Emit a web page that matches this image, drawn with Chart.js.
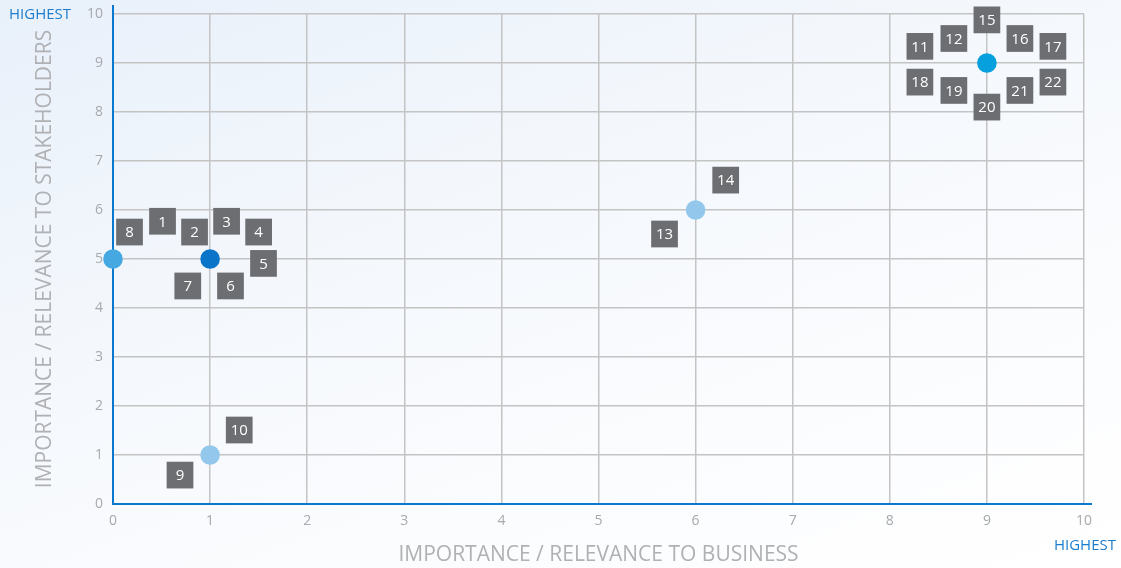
<!DOCTYPE html>
<html>
<head>
<meta charset="utf-8">
<script src="https://cdn.jsdelivr.net/npm/chart.js@4"></script>
<style>
html,body{margin:0;padding:0;}
body{width:1121px;height:568px;overflow:hidden;
  background:linear-gradient(160deg,#e8f0fa 0%,#f3f7fc 35%,#fbfcfe 70%,#ffffff 100%);}
#wrap{position:relative;width:1121px;height:568px;}
canvas{display:block;}
</style>
</head>
<body>
<div id="wrap"><canvas id="matrix" width="1121" height="568"></canvas></div>
<script>
// Materiality matrix data
const xTicks=[0,1,2,3,4,5,6,7,8,9,10];
const yTicks=[0,1,2,3,4,5,6,7,8,9,10];

const pointX=[0,1,9,6,1];
const pointY=[5,5,9,6,1];
const pointColors=['#45a8e0','#0a74c8','#05a0dd','#93c8ec','#93c8ec'];

const tagNames=['1','2','3','4','5','6','7','8','9','10','11','12','13','14','15','16','17','18','19','20','21','22'];
const tagX=[0.51,0.84,1.17,1.50,1.55,1.21,0.77,0.17,0.69,1.30,8.31,8.66,5.68,6.31,9.00,9.34,9.68,8.31,8.66,9.00,9.34,9.68];
const tagY=[5.77,5.55,5.77,5.55,4.91,4.45,4.45,5.55,0.59,1.51,9.34,9.50,5.51,6.61,9.88,9.50,9.34,8.61,8.44,8.10,8.44,8.61];

const FONT='"Open Sans", "Noto Sans", sans-serif';

// number text on the grey tags
const tagText={
  id:'tagText',
  afterDatasetsDraw(chart){
    const ctx=chart.ctx;
    const meta=chart.getDatasetMeta(0);
    ctx.save();
    ctx.fillStyle='#ffffff';
    ctx.font='15px '+FONT;
    ctx.textAlign='center';
    ctx.textBaseline='middle';
    meta.data.forEach((el,i)=>{ ctx.fillText(tagNames[i], el.x, el.y+1); });
    ctx.restore();
  }
};

// blue axis lines and "HIGHEST" marks
const axisDecor={
  id:'axisDecor',
  beforeDatasetsDraw(chart){
    const ctx=chart.ctx, a=chart.chartArea;
    ctx.save();
    ctx.strokeStyle='#0a78cd';
    ctx.lineWidth=2;
    ctx.beginPath();
    ctx.moveTo(a.left, a.top-9);
    ctx.lineTo(a.left, a.bottom);
    ctx.lineTo(a.right+8, a.bottom);
    ctx.stroke();
    ctx.restore();
  },
  afterDraw(chart){
    const ctx=chart.ctx, a=chart.chartArea;
    ctx.save();
    ctx.fillStyle='#1b7dce';
    ctx.font='15px '+FONT;
    ctx.textBaseline='middle';
    ctx.textAlign='left';
    ctx.fillText('HIGHEST', 9, a.top+1);
    ctx.textAlign='right';
    ctx.fillText('HIGHEST', 1116, 546);
    ctx.restore();
  }
};

new Chart(document.getElementById('matrix'),{
  type:'scatter',
  data:{
    datasets:[
      {
        label:'Topics',
        data:tagX.map((x,i)=>({x:x,y:tagY[i]})),
        pointStyle:'rect',
        pointRadius:18.9,
        pointHoverRadius:18.9,
        backgroundColor:'#6d6e71',
        borderWidth:0,
        clip:false
      },
      {
        label:'Clusters',
        data:pointX.map((x,i)=>({x:x,y:pointY[i]})),
        pointRadius:9.8,
        pointHoverRadius:9.8,
        backgroundColor:pointColors,
        borderWidth:0,
        clip:false
      }
    ]
  },
  options:{
    responsive:false,
    animation:false,
    devicePixelRatio:1,
    layout:{autoPadding:false,padding:{top:14,right:37,left:0,bottom:0}},
    plugins:{legend:{display:false},tooltip:{enabled:false}},
    scales:{
      x:{
        type:'linear',min:0,max:10,
        afterBuildTicks(s){ s.ticks=xTicks.map(v=>({value:v})); },
        afterFit(s){ s.height=64; },
        border:{display:false},
        grid:{color:'#c4c4c4',lineWidth:1.5,drawTicks:false},
        ticks:{color:'#a7a9ac',font:{family:FONT,size:14},padding:9,maxRotation:0,autoSkip:false},
        title:{display:true,text:'IMPORTANCE / RELEVANCE TO BUSINESS',color:'#b0b1b4',
          font:{family:FONT,size:21},padding:{top:0,bottom:0}}
      },
      y:{
        type:'linear',min:0,max:10,
        afterBuildTicks(s){ s.ticks=yTicks.map(v=>({value:v})); },
        afterFit(s){ s.width=113; s.paddingTop=0; s.paddingBottom=0; },
        border:{display:false},
        grid:{color:'#c4c4c4',lineWidth:1.5,drawTicks:false},
        ticks:{color:'#a7a9ac',font:{family:FONT,size:14},padding:10,autoSkip:false},
        title:{display:true,text:'IMPORTANCE / RELEVANCE TO STAKEHOLDERS',color:'#b0b1b4',
          font:{family:FONT,size:21},padding:{top:32,bottom:0}}
      }
    }
  },
  plugins:[axisDecor,tagText]
});
</script>
</body>
</html>
